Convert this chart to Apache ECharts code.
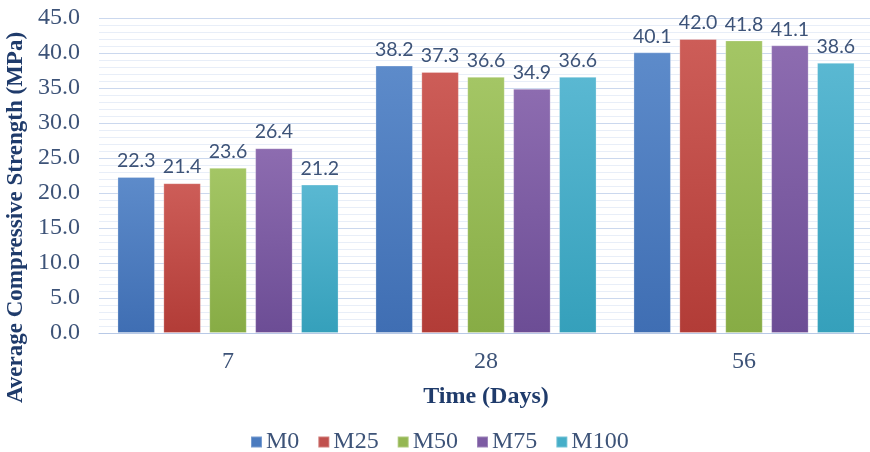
<!DOCTYPE html>
<html>
<head>
<meta charset="utf-8">
<script src="https://cdn.jsdelivr.net/npm/echarts@6/dist/echarts.min.js"></script>
<style>
html,body{margin:0;padding:0;background:#fff;}
#chart{width:870px;height:452px;}
</style>
</head>
<body>
<div id="chart"></div>
<script>
const categories = ['7', '28', '56'];
const seriesNames = ['M0', 'M25', 'M50', 'M75', 'M100'];
const M0 = [22.3, 38.2, 40.1];
const M25 = [21.4, 37.3, 42.0];
const M50 = [23.6, 36.6, 41.8];
const M75 = [26.4, 34.9, 41.1];
const M100 = [21.2, 36.6, 38.6];
const values = [M0, M25, M50, M75, M100];
const topColors = ['#5d8bca', '#cd5d58', '#a4c665', '#8d6cb0', '#5ab8d2'];
const bottomColors = ['#3f6eb3', '#b23c37', '#87ac45', '#6c4d95', '#35a0bb'];
const solidColors = ['#4a7bbf', '#c0504d', '#94b752', '#7d5ca3', '#46aec8'];

const chart = echarts.init(document.getElementById('chart'), null, {renderer: 'canvas'});
const serif = '"Liberation Serif", "DejaVu Serif", serif';
const sans = 'Lato, "Open Sans", sans-serif';

const series = seriesNames.map((name, i) => ({
  name: name,
  type: 'bar',
  data: values[i],
  barGap: '22.4%',
  barCategoryGap: '14.3%',
  itemStyle: {
    color: new echarts.graphic.LinearGradient(0, 0, 0, 1, [
      {offset: 0, color: topColors[i]},
      {offset: 1, color: bottomColors[i]}
    ]),
    borderColor: 'rgba(255,255,255,0.25)',
    borderWidth: 1
  },
  label: {
    show: true,
    position: 'top',
    distance: 6,
    formatter: p => p.value.toFixed(1),
    fontFamily: sans,
    fontSize: 19.5,
    color: '#3d5378'
  }
}));

chart.setOption({
  animation: false,
  color: solidColors,
  grid: {left: 99, width: 774, top: 18, bottom: 119, containLabel: false, outerBoundsMode: 'none'},
  legend: {
    top: 425,
    left: 245,
    icon: 'rect',
    itemWidth: 11,
    itemHeight: 11,
    itemGap: 18,
    textStyle: {fontFamily: serif, fontSize: 24, color: '#3d5378', padding: [0, 0, 0, -1]},
    data: seriesNames.map((n, i) => ({name: n, itemStyle: {color: solidColors[i]}}))
  },
  xAxis: {
    type: 'category',
    data: categories,
    name: 'Time (Days)',
    nameLocation: 'middle',
    nameGap: 52,
    nameTextStyle: {fontFamily: serif, fontSize: 24, fontWeight: 'bold', color: '#1f3b6b'},
    axisLine: {lineStyle: {color: '#b8c9e6', width: 1}},
    axisTick: {show: false},
    axisLabel: {fontFamily: serif, fontSize: 24, color: '#3d5378', margin: 17}
  },
  yAxis: {
    type: 'value',
    min: 0,
    max: 45,
    interval: 5,
    name: 'Average Compressive Strength (MPa)',
    nameLocation: 'middle',
    nameGap: 69,
    nameTextStyle: {fontFamily: serif, fontSize: 23, fontWeight: 'bold', color: '#1f3b6b', padding: [0, 84, 0, 0]},
    axisLine: {show: false},
    axisTick: {show: false},
    axisLabel: {fontFamily: serif, fontSize: 24, color: '#3d5378', margin: 19, formatter: v => v.toFixed(1)},
    splitLine: {lineStyle: {color: '#cbd8ee', width: 1}},
    minorTick: {show: false, splitNumber: 5},
    minorSplitLine: {show: true, lineStyle: {color: '#e8eef8', width: 1}}
  },
  series: series
});
</script>
</body>
</html>
